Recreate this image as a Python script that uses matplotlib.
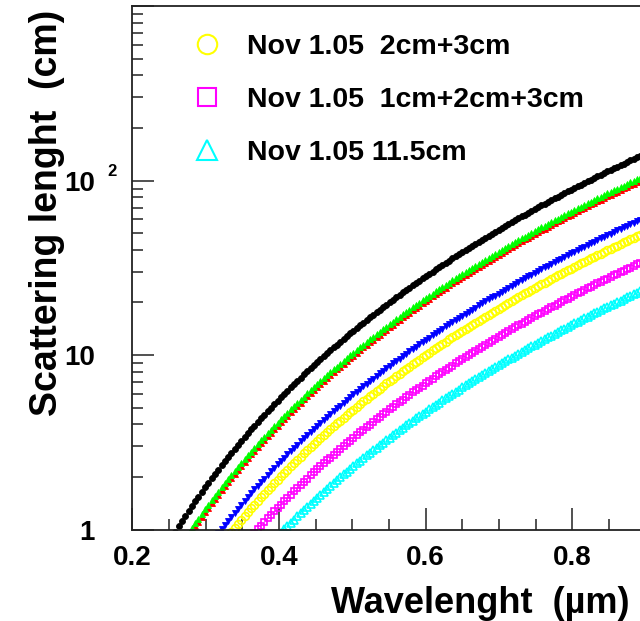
# scattering length vs wavelength (ROOT-style plot, cropped on the right)

import numpy as np
import matplotlib
matplotlib.use('Agg')
from matplotlib import pyplot as plt
from matplotlib.lines import Line2D
from matplotlib.ticker import MultipleLocator, LogLocator, FixedFormatter, FixedLocator, NullFormatter, FuncFormatter
import matplotlib.transforms as mtransforms

plt.rcParams['font.family'] = ['Liberation Sans', 'DejaVu Sans']
plt.rcParams['font.weight'] = 'bold'

# wavelength grid (um) of the measured points
wavelength = np.arange(0.2, 1.0001, 0.0045)

# Rayleigh: L = C * lambda^4, C (cm at 1 um)
c_black = 218.0
c_red = 157.0
c_green = 163.0
c_blue = 94.0
c_yellow = 77.0
c_magenta = 53.0
c_cyan = 36.5

legend_labels = ['Nov 1.05  2cm+3cm', 'Nov 1.05  1cm+2cm+3cm', 'Nov 1.05 11.5cm']

fig = plt.figure(figsize=(6.4, 6.21), dpi=100)
ax = fig.add_axes([0.207, 0.1473, 0.916, 0.843])

# (coef, color, marker, size, filled)
series = [
    (c_black, 'black', 'o', 4.3, True),
    (c_red, '#ff0000', '^', 4.0, True),
    (c_green, '#00ff00', '^', 4.0, True),
    (c_blue, '#0000ff', 'v', 4.4, True),
    (c_yellow, '#ffff00', 'o', 5.6, False),
    (c_magenta, '#ff00ff', 's', 5.0, False),
    (c_cyan, '#00ffff', '^', 5.8, False),
]
for coef, col, mk, ms, filled in series:
    L = coef * wavelength ** 4
    if filled:
        ax.plot(wavelength, L, linestyle='none', marker=mk, markersize=ms,
                color=col, markeredgewidth=0.6)
    else:
        ax.plot(wavelength, L, linestyle='none', marker=mk, markersize=ms,
                markerfacecolor='none', markeredgecolor=col, markeredgewidth=1.2)

ax.set_yscale('log')
ax.set_xlim(0.2, 1.0)
ax.set_ylim(1, 1000)

ax.xaxis.set_major_locator(MultipleLocator(0.2))
ax.xaxis.set_minor_locator(MultipleLocator(0.05))
ax.xaxis.set_major_formatter(FuncFormatter(lambda v, p: '%.1f' % v if v < 0.95 else ''))

ax.yaxis.set_major_locator(FixedLocator([1, 10, 100, 1000]))
ax.yaxis.set_major_formatter(FixedFormatter(['1', '10', '10', '']))
ax.yaxis.set_minor_locator(LogLocator(base=10, subs=np.arange(2, 10)))
ax.yaxis.set_minor_formatter(NullFormatter())

ax.tick_params(which='both', direction='in', top=False, right=False, width=1.1,
               labelsize=20, colors='#222222', labelcolor='black')
ax.tick_params(which='major', length=15.8)
ax.tick_params(which='minor', length=7.9)
ax.tick_params(axis='x', pad=11)
ax.tick_params(axis='y', pad=27)
for lab in ax.get_xticklabels() + ax.get_yticklabels():
    lab.set_fontweight('bold')
for sp in ax.spines.values():
    sp.set_linewidth(1.3)
    sp.set_color('#222222')

# superscript of the 10^2 label
trans = mtransforms.blended_transform_factory(ax.transAxes, ax.transData)
ax.annotate('2', xy=(0, 100), xycoords=trans, xytext=(-17.9, 3), textcoords='offset points',
            ha='left', va='baseline', fontsize=12, fontweight='bold', annotation_clip=False)

# legend
handles = [
    Line2D([], [], linestyle='none', marker='o', markersize=14, markerfacecolor='none',
           markeredgecolor='#ffff00', markeredgewidth=1.5),
    Line2D([], [], linestyle='none', marker='s', markersize=13, markerfacecolor='none',
           markeredgecolor='#ff00ff', markeredgewidth=1.5),
    Line2D([], [], linestyle='none', marker='^', markersize=14, markerfacecolor='none',
           markeredgecolor='#00ffff', markeredgewidth=1.5),
]
leg = ax.legend(handles, legend_labels, loc='upper left', bbox_to_anchor=(0.3016, 0.945),
                bbox_transform=fig.transFigure, frameon=False, borderpad=0, borderaxespad=0,
                handlelength=1.0, handletextpad=0.9, labelspacing=0.95,
                prop={'size': 20.5, 'weight': 'bold'})

# axis titles (ROOT puts them at the axis ends)
fig.text(331 / 640, (621 - 613) / 621, 'Wavelenght  (\u00b5m)', ha='left', va='baseline',
         fontsize=26, fontweight='bold')
fig.text(47 / 640, (621 - 10) / 621, 'Scattering lenght  (cm)', ha='center', va='top',
         rotation=90, fontsize=27, fontweight='bold')

fig.savefig('out.png', dpi=100)
